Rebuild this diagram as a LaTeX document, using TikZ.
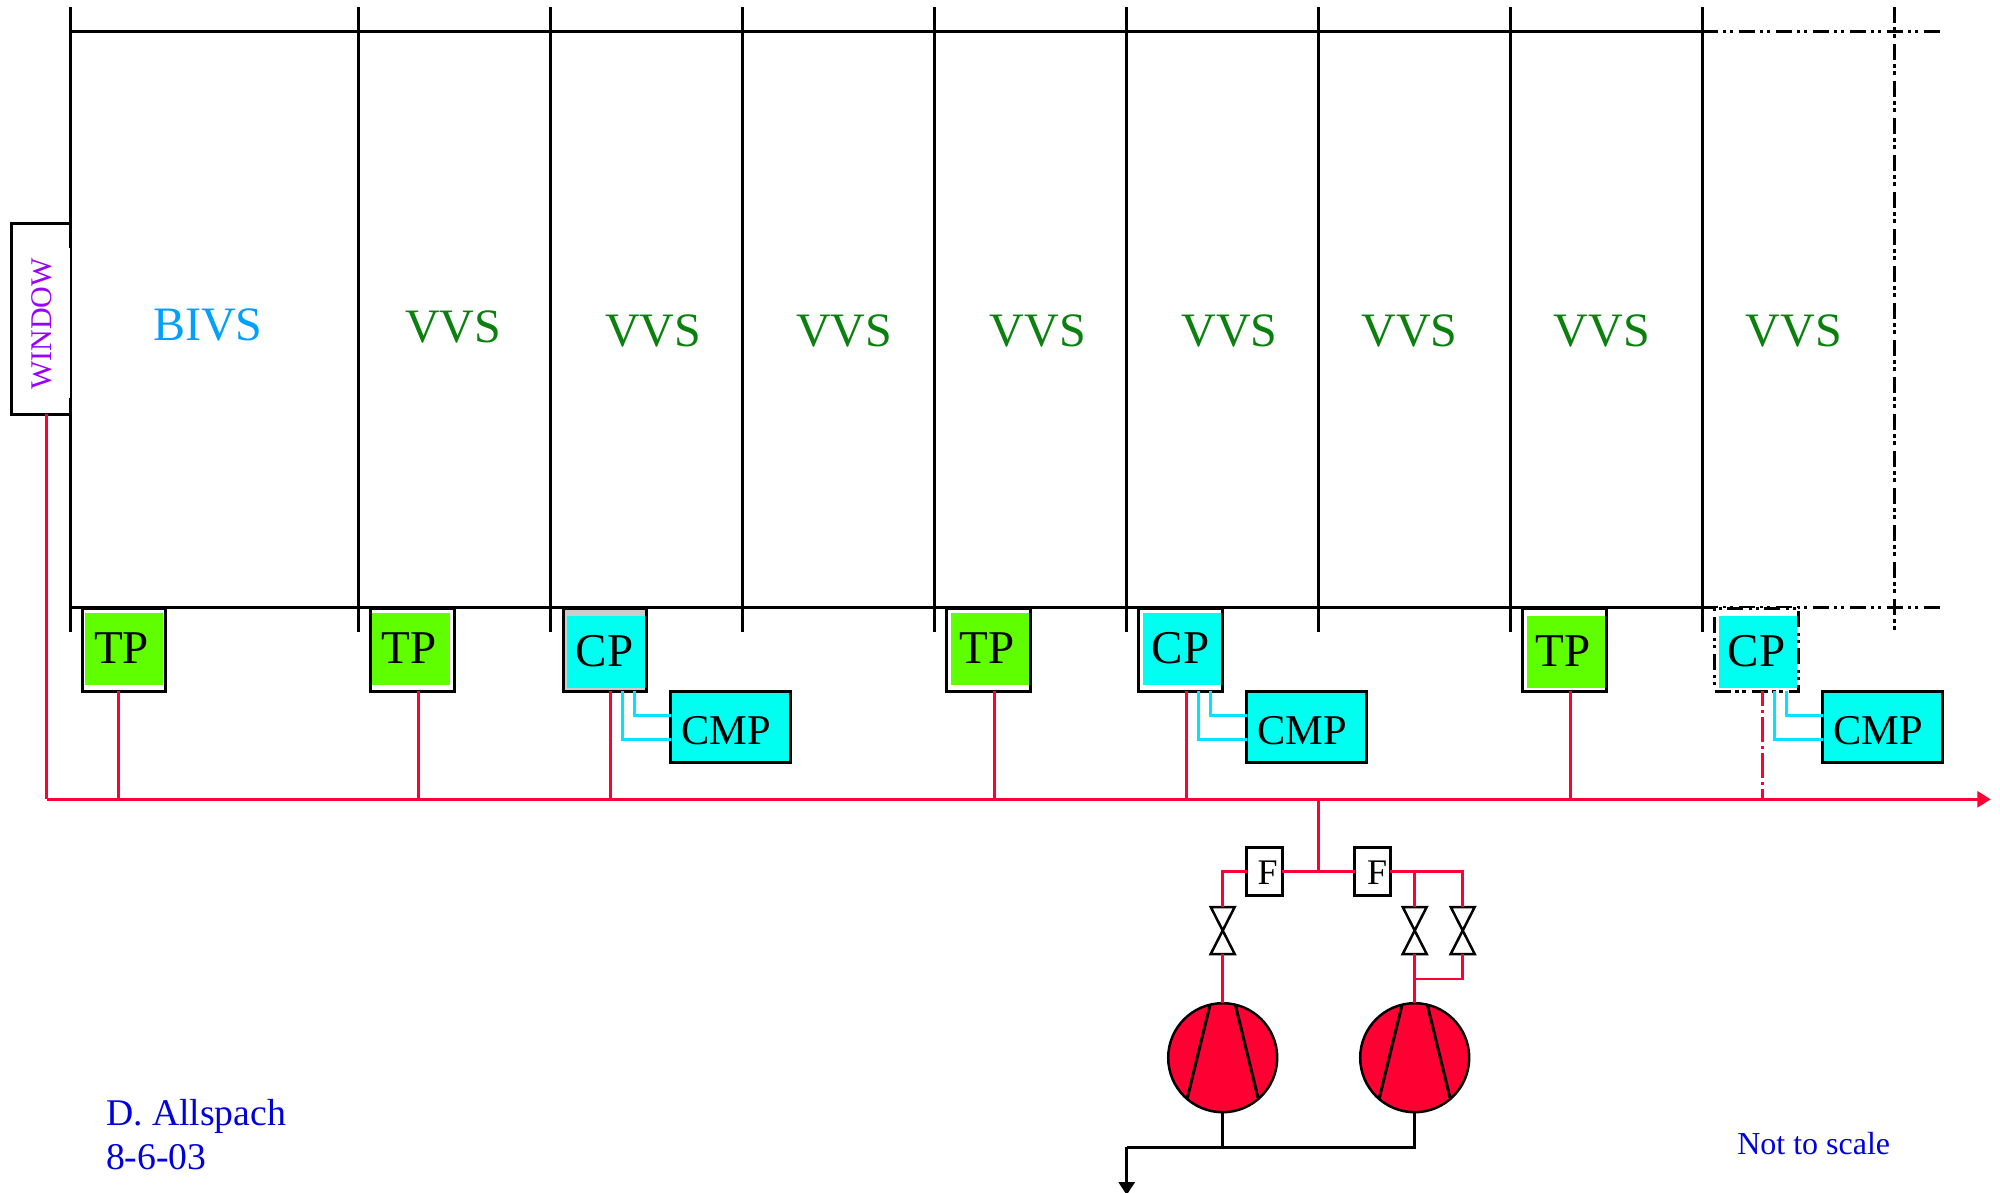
\documentclass[tikz,border=0pt]{standalone}
\usepackage{fontspec}
\setmainfont{Liberation Serif}
\usetikzlibrary{arrows.meta}
\definecolor{pipered}{HTML}{FF0033}
\definecolor{tpgreen}{HTML}{60FF00}
\definecolor{cpcyan}{HTML}{00FFF0}
\definecolor{linecyan}{HTML}{00E5FF}
\definecolor{vvsgreen}{HTML}{0A800F}
\definecolor{bivsblue}{HTML}{00A0FF}
\definecolor{winpurple}{HTML}{9900FF}
\definecolor{noteblue}{HTML}{0000DD}
\newcommand{\sz}[1]{\fontsize{#1}{#1}\selectfont}
\tikzset{
  wall/.style={draw=black,line width=3pt},
  ddot/.style={dash pattern=on 16pt off 4.5pt on 3.5pt off 3.5pt on 3.5pt off 6pt},
  redpipe/.style={draw=pipered,line width=2.8pt},
  cyanpipe/.style={draw=linecyan,line width=2.8pt,line join=miter},
  blackpipe/.style={draw=black,line width=3pt},
  ctrlbox/.style={draw=black,line width=3pt,fill=white,inner sep=0,outer sep=0,minimum width=83.5pt,minimum height=83pt},
  cmpbox/.style={draw=black,line width=3pt,fill=cpcyan,inner sep=0,outer sep=0,minimum width=119.3pt,minimum height=71pt},
  filterbox/.style={draw=black,line width=3pt,fill=white,inner sep=0,outer sep=0,minimum width=35.5pt,minimum height=47.5pt},
  valvebox/.style={inner sep=0,outer sep=0,minimum width=24pt,minimum height=47pt},
  valveshape/.style={draw=black,line width=2.5pt,fill=white,line join=miter},
  pumpbody/.style={circle,draw=black,line width=2.5pt,fill=pipered,inner sep=0,outer sep=0,minimum size=109pt},
  lbl/.style={anchor=base,inner sep=0,outer sep=0},
  vvs/.style={lbl,text=vvsgreen,font=\sz{48}},
  boxtxt/.style={lbl,text=black,font=\sz{47}},
  cmptxt/.style={lbl,text=black,font=\sz{42.4}},
  ftxt/.style={lbl,text=black,font=\sz{36}},
  note/.style={anchor=base west,inner sep=0,outer sep=0,text=noteblue},
}
\begin{document}
\begin{tikzpicture}[x=1pt,y=-1pt]
\useasboundingbox (0,0) rectangle (2000,1192);
% frame
\coordinate (topL) at (70.4,31);
\coordinate (topM) at (1702.3,31);
\coordinate (topR) at (1941,31);
\coordinate (botL) at (70.4,607);
\coordinate (botM) at (1702.3,607);
\coordinate (botR) at (1941,607);
\draw[wall] (topL) -- (topM);
\draw[wall] (botL) -- (botM);
\draw[wall,ddot] (topM) -- (topR);
\draw[wall,ddot] (botM) -- (botR);
\foreach \x in {70.4,358.7,550.5,742.3,934.2,1126,1318,1510,1702.3}
  \draw[wall] (\x,6.7) -- (\x,631.5);
\draw[wall,ddot] (1894.3,6.7) -- (1894.3,631.5);
% window
\node[draw=black,line width=3pt,fill=white,inner sep=0,outer sep=0,minimum width=59pt,minimum height=190.5pt] (win) at (40.5,319.2) {};
\fill[white] (68.9,248) rectangle (70.2,398.3);
\node[anchor=base,inner sep=0,outer sep=0,rotate=90,text=winpurple,font=\sz{30}] (wintxt) at (51.7,324) {WINDOW};
% section labels
\node[lbl,text=bivsblue,font=\sz{48}] (bivs) at (208,340.5) {BIVS};
\node[vvs] (v1) at (453.2,342.5) {VVS};
\node[vvs] (v2) at (653.2,346.3) {VVS};
\node[vvs] (v3) at (844.3,346.3) {VVS};
\node[vvs] (v4) at (1037.8,346.3) {VVS};
\node[vvs] (v5) at (1229.5,346.3) {VVS};
\node[vvs] (v6) at (1409.5,346.3) {VVS};
\node[vvs] (v7) at (1601.8,346.3) {VVS};
\node[vvs] (v8) at (1793.8,346.3) {VVS};
\begin{scope}[yshift=-1pt]
% bus
\coordinate (busL) at (46.8,798.3);
\coordinate (busR) at (1990.7,798.3);
\coordinate (j1) at (118.4,798.3);
\coordinate (j2) at (418.4,798.3);
\coordinate (j3) at (610.2,798.3);
\coordinate (j4) at (994.3,798.3);
\coordinate (j5) at (1186.3,798.3);
\coordinate (j6) at (1570.3,798.3);
\coordinate (j7) at (1762.3,798.3);
\coordinate (jm) at (1318.3,798.3);
\coordinate (jf) at (1318.3,870.5);
% control boxes
\node[ctrlbox] (tp1) at (124.2,648.85) {};
\fill[tpgreen] (85.2,611.7) rectangle (162.8,684);
\node[boxtxt] (tp1t) at (121.7,662.2) {TP};
\node[ctrlbox] (tp2) at (412.3,648.85) {};
\fill[tpgreen] (372,611.7) rectangle (450,684);
\node[boxtxt] (tp2t) at (408.9,662.2) {TP};
\node[ctrlbox,fill=black!20] (cp1) at (604.9,648.85) {};
\fill[cpcyan] (566.8,615) rectangle (645,687);
\node[boxtxt] (cp1t) at (604.6,665) {CP};
\node[ctrlbox] (tp3) at (988.4,648.85) {};
\fill[tpgreen] (951,612) rectangle (1029,684);
\node[boxtxt] (tp3t) at (987.2,662.2) {TP};
\node[ctrlbox] (cp2) at (1180.4,648.85) {};
\fill[cpcyan] (1143,612) rectangle (1221,684);
\node[boxtxt] (cp2t) at (1180.6,662.2) {CP};
\node[ctrlbox] (tp4) at (1564.4,648.85) {};
\fill[tpgreen] (1527,615) rectangle (1605,686.7);
\node[boxtxt] (tp4t) at (1563,665) {TP};
\node[ctrlbox,ddot] (cp3) at (1756.5,648.85) {};
\fill[cpcyan] (1719,615) rectangle (1796.7,686.7);
\node[boxtxt] (cp3t) at (1756.5,665) {CP};
% compressors of cold pumps
\node[cmpbox] (cmp1) at (730.4,726) {};
\node[cmptxt] (cmp1t) at (726.2,743.3) {CMP};
\node[cmpbox] (cmp2) at (1306.4,726) {};
\node[cmptxt] (cmp2t) at (1302.2,743.3) {CMP};
\node[cmpbox] (cmp3) at (1882.5,726) {};
\node[cmptxt] (cmp3t) at (1878.2,743.3) {CMP};
% cyan lines
\foreach \cp/\cm/\xa/\xb in {cp1/cmp1/622.4/634.7,cp2/cmp2/1198.7/1210.7,cp3/cmp3/1774.3/1786.7}{
  \coordinate (ca) at (\xa,738.3);
  \coordinate (cb) at (\xb,714.3);
  \draw[cyanpipe] (ca |- \cp.south) -- (ca) -- (ca -| \cm.west);
  \draw[cyanpipe] (cb |- \cp.south) -- (cb) -- (cb -| \cm.west);
}
% red lines
\draw[redpipe] (win.south -| busL) -- (busL);
\draw[redpipe,-{Triangle[length=13.4pt,width=16pt]}] (busL) -- (busR);
\draw[redpipe] (j1) -- (j1 |- tp1.south);
\draw[redpipe] (j2) -- (j2 |- tp2.south);
\draw[redpipe] (j3) -- (j3 |- cp1.south);
\draw[redpipe] (j4) -- (j4 |- tp3.south);
\draw[redpipe] (j5) -- (j5 |- cp2.south);
\draw[redpipe] (j6) -- (j6 |- tp4.south);
\draw[redpipe,dash pattern=on 25pt off 4pt on 3pt off 4pt,dash phase=10pt] (j7 |- cp3.south) -- (j7);
\draw[redpipe] (jm) -- (jf);
% filters
\node[filterbox] (f1) at (1264.5,870.3) {};
\node[ftxt] (f1t) at (1267.7,883) {F};
\node[filterbox] (f2) at (1372.5,870.3) {};
\node[ftxt] (f2t) at (1377,883) {F};
% valves
\node[valvebox] (va) at (1222.7,929.5) {};
\node[valvebox] (vb) at (1414.7,929.5) {};
\node[valvebox] (vc) at (1462.7,929.5) {};
\foreach \n in {va,vb,vc}
  \draw[valveshape] (\n.north west) -- (\n.north east) -- (\n.south west) -- (\n.south east) -- cycle;
% pumps
\node[pumpbody] (pa) at (1222.7,1056.7) {};
\node[pumpbody] (pb) at (1414.7,1056.7) {};
\foreach \n in {pa,pb}{
  \draw[black,line width=3pt] ([shift={(-12.7,-52.7)}]\n.center) -- ([shift={(-35.3,40)}]\n.center);
  \draw[black,line width=3pt] ([shift={(12.7,-52.7)}]\n.center) -- ([shift={(35.3,40)}]\n.center);
}
% red pipework round the filters and valves
\draw[redpipe] (f1.east) -- (f2.west);
\draw[redpipe] (f1.west) -| (va.north);
\draw[redpipe] (f2.east) -| (vc.north);
\draw[redpipe] (vb.north |- f2.east) -- (vb.north);
\draw[redpipe] (va.south) -- (pa.north);
\draw[redpipe] (vb.south) -- (pb.north);
\coordinate (jv) at (1414.7,978);
\draw[redpipe] (vc.south) |- (jv);
% exhaust
\coordinate (ex) at (1126.7,1146);
\coordinate (exEnd) at (1126.7,1194);
\draw[blackpipe] (pb.south) |- (ex);
\draw[blackpipe] (pa.south) -- (pa.south |- ex);
\draw[blackpipe,-{Triangle[length=13pt,width=16pt]}] (ex) -- (exEnd);
% notes
\node[note,font=\sz{37.7}] (au) at (106,1124) {D. Allspach};
\node[note,font=\sz{37.7}] (dt) at (106,1168) {8-6-03};
\node[note,font=\sz{32}] (ns) at (1737.3,1153) {Not to scale};
\end{scope}
\end{tikzpicture}
\end{document}
